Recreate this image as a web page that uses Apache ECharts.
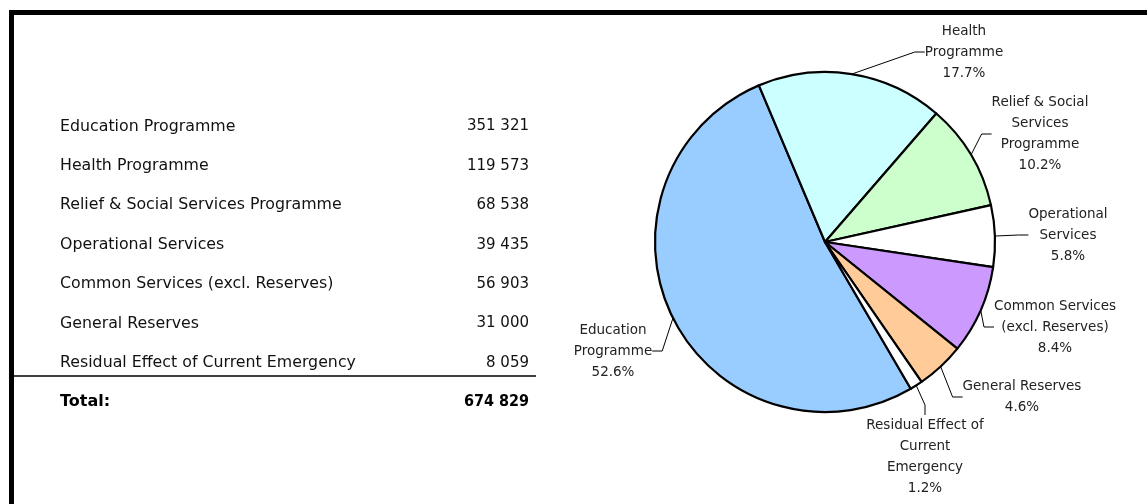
<!DOCTYPE html>
<html>
<head>
<meta charset="utf-8">
<script src="https://cdn.jsdelivr.net/npm/echarts@6/dist/echarts.min.js"></script>
<style>
  html, body { margin: 0; padding: 0; background: #fff; overflow: hidden; }
  #main { width: 1147px; height: 504px; }
</style>
</head>
<body>
<div id="main"></div>
<script>
// programme names as in the table
var categories = [
  "Education Programme",
  "Health Programme",
  "Relief & Social Services Programme",
  "Operational Services",
  "Common Services (excl. Reserves)",
  "General Reserves",
  "Residual Effect of Current Emergency"
];
// amounts
var values = [351321, 119573, 68538, 39435, 56903, 31000, 8059];
// pie label names (wrapped like the original)
var pieNames = [
  "Education\nProgramme",
  "Health\nProgramme",
  "Relief & Social\nServices\nProgramme",
  "Operational\nServices",
  "Common Services\n(excl. Reserves)",
  "General Reserves",
  "Residual Effect of\nCurrent\nEmergency"
];
// percentages printed on the pie
var shares = ["52.6%", "17.7%", "10.2%", "5.8%", "8.4%", "4.6%", "1.2%"];

var colors = ["#99ccff", "#ccffff", "#ccffcc", "#ffffff", "#cc99ff", "#ffcc99", "#ffffff"];
// where each pie label sits, relative to the pie centre
var labelOffsets = [[-212, 109], [139, -190], [215, -108], [243, -7], [230, 85], [197, 155], [100, 215]];

var font = "Tahoma, 'DejaVu Sans', sans-serif";
var cx = 825, cy = 242;

function fmt(n) {
  return String(n).replace(/\B(?=(\d{3})+(?!\d))/g, " ");
}

var total = values.reduce(function (a, b) { return a + b; }, 0);

// frame + table on the left
var graphics = [];
graphics.push({
  type: "rect", silent: true,
  shape: { x: 11.5, y: 12.5, width: 1300, height: 700 },
  style: { fill: null, stroke: "#000", lineWidth: 5 }
});
var rowTop = 126.5, rowStep = 39.4;
for (var i = 0; i < categories.length; i++) {
  graphics.push({
    type: "text", x: 60, y: rowTop + i * rowStep,
    style: { text: categories[i], font: "15.8px " + font, fill: "#111", align: "left", verticalAlign: "middle" }
  });
  graphics.push({
    type: "text", x: 529, y: rowTop + i * rowStep,
    style: { text: fmt(values[i]), font: "15px " + font, fill: "#111", align: "right", verticalAlign: "middle" }
  });
}
graphics.push({
  type: "line", silent: true,
  shape: { x1: 14, y1: 376, x2: 536, y2: 376 },
  style: { stroke: "#000", lineWidth: 1.3 }
});
graphics.push({
  type: "text", x: 60, y: 402,
  style: { text: "Total:", font: "bold 16px " + font, fill: "#000", align: "left", verticalAlign: "middle" }
});
graphics.push({
  type: "text", x: 529, y: 402,
  style: { text: fmt(total), font: "bold 16px 'DejaVu Sans Condensed', 'DejaVu Sans', sans-serif", fill: "#000", align: "right", verticalAlign: "middle" }
});

var chart = echarts.init(document.getElementById("main"));
var option = {
  animation: false,
  backgroundColor: "#fff",
  graphic: graphics,
  series: [{
    type: "pie",
    center: [cx, cy],
    radius: 170,
    startAngle: -59.7,
    clockwise: true,
    avoidLabelOverlap: false,
    itemStyle: { borderColor: "#000", borderWidth: 2.2 },
    label: {
      show: true,
      position: "outside",
      fontFamily: font,
      fontSize: 13.5,
      lineHeight: 21,
      color: "#222",
      align: "center",
      formatter: function (p) {
        return pieNames[p.dataIndex] + "\n" + shares[p.dataIndex];
      }
    },
    labelLine: {
      show: true,
      length: 12,
      length2: 10,
      lineStyle: { color: "#000", width: 1 }
    },
    labelLayout: function (params) {
      var o = labelOffsets[params.dataIndex];
      return { x: cx + o[0], y: cy + o[1], align: "center", verticalAlign: "middle" };
    },
    data: values.map(function (v, i) {
      return { name: categories[i], value: v, itemStyle: { color: colors[i] } };
    })
  }]
};
chart.setOption(option);
</script>
</body>
</html>
